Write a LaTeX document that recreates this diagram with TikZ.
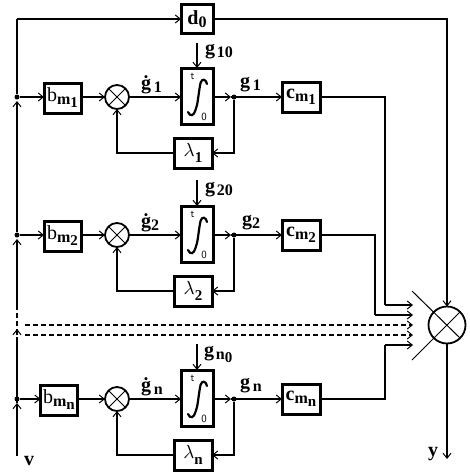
\documentclass[tikz,border=0pt]{standalone}
\usepackage{fontspec}
\usepackage{graphicx}
\setmainfont{Liberation Serif}
\usetikzlibrary{arrows.meta}
\newcommand{\bt}[1]{{\fontsize{20}{20}\selectfont\bfseries #1}}
\newcommand{\lowa}[1]{\raisebox{-3pt}{\fontsize{16}{16}\selectfont\bfseries #1}}
\newcommand{\lowb}[1]{\raisebox{-6pt}{\fontsize{15}{15}\selectfont\bfseries #1}}
\newcommand{\mlab}[2]{{\fontsize{20}{20}\selectfont #1}\lowa{m}\lowb{#2}}
\newcommand{\lamlab}[1]{\scalebox{1.9}{$\lambda$}\lowb{#1}}
\tikzset{
  x=1pt,y=-1pt,
  wire/.style={line width=1.6pt,line join=miter},
  tip/.style={-{Straight Barb[length=5pt,width=8pt,line width=1pt]}},
  block/.style={draw,line width=3pt,minimum width=#1,inner sep=0pt,outer sep=0pt,fill=white},
  mixer/.style={draw,circle,line width=1.8pt,inner sep=0pt,minimum size=24pt,outer sep=0pt},
  dot/.style={circle,fill=black,inner sep=0pt,minimum size=5pt},
  lab/.style={inner sep=0pt,anchor=west},
  small/.style={inner sep=0pt,font=\fontsize{11}{11}\selectfont\sffamily},
  dashwire/.style={line width=1.6pt,dash pattern=on 5pt off 3pt},
  integ/.style={line width=2.2pt,line cap=round}
}
\newcommand{\intbox}[3]{% name, top, bottom
  \node[block=32pt,minimum height=#3pt-#2pt] (#1) at (197,{(#2+#3)/2}) {};
  \draw[integ,shift={(#1.center)}] (10,-12) .. controls (9,-17) and (5,-18) .. (3.5,-13) .. controls (1,0) and (1,8) .. (-1.5,14) .. controls (-3,20) and (-7,21) .. (-9,16);
  \node[small] (#1t) at (192.5,#2+8) {t};
  \node[small] (#1z) at (204,#3-7) {0};
}
\begin{document}
\begin{tikzpicture}
\useasboundingbox (0,0) rectangle (470,474);
% bus
\coordinate (bustop) at (17,19);
\coordinate (busbot) at (17,456);
\coordinate (da) at (17,342);
\coordinate (db) at (17,307);
\coordinate (dtip) at (17,329);
\coordinate (dlow) at (17,335);
\node[dot] (j1) at (17,97) {};
\node[dot] (j2) at (17,235) {};
\node[dot] (jn) at (17,399) {};
\coordinate (u1) at (17,101);
\coordinate (u2) at (17,239);
\coordinate (un) at (17,403);

% d0 block
\node[block=32pt,minimum height=29pt] (d0) at (197,19) {\bt{d}\lowa{0}};
% final mixer
\node[mixer,minimum size=37pt] (S) at (447,325) {};
\coordinate (xa) at (412,291);
\coordinate (xb) at (412,360);
\draw[line width=1pt] (xa) -- (S.south east);
\draw[line width=1pt] (xb) -- (S.north east);
\coordinate (yend) at (447,459);

% rows
\node[block=37pt,minimum height=30pt] (b1) at (62.5,98) {\mlab{b}{1}};
\node[block=37pt,minimum height=30pt] (b2) at (62.5,236) {\mlab{b}{2}};
\node[block=37pt,minimum height=30pt] (bn) at (59,400) {\mlab{b}{n}};
\node[mixer] (s1) at (117,97) {};
\node[mixer] (s2) at (117,235) {};
\node[mixer] (sn) at (117,399) {};
\foreach \s in {s1,s2,sn}{
  \draw[line width=1pt] (\s.north west) -- (\s.south east);
  \draw[line width=1pt] (\s.north east) -- (\s.south west);
}
\intbox{i1}{68}{124}
\intbox{i2}{206}{262}
\intbox{in}{370}{426}
\node[block=38pt,minimum height=30pt] (l1) at (193,153) {\lamlab{1}};
\node[block=38pt,minimum height=30pt] (l2) at (193,291) {\lamlab{2}};
\node[block=38pt,minimum height=30pt] (ln) at (193,455) {\lamlab{n}};
\node[block=38pt,minimum height=30pt] (c1) at (301,97) {\mlab{\bfseries c}{1}};
\node[block=38pt,minimum height=30pt] (c2) at (301,235) {\mlab{\bfseries c}{2}};
\node[block=38pt,minimum height=30pt] (cn) at (301,399) {\mlab{\bfseries c}{n}};
\node[dot] (k1) at (234,97) {};
\node[dot] (k2) at (234,235) {};
\node[dot] (kn) at (234,399) {};
\coordinate (m1) at (231,97);
\coordinate (m2) at (231,235);
\coordinate (mn) at (231,399);
\coordinate (g1s) at (197,43);
\coordinate (g2s) at (197,180);
\coordinate (gns) at (197,344);
\coordinate (e1) at (413,305);
\coordinate (e2) at (413,315);
\coordinate (en) at (413,345);
\coordinate (t1) at (413,325);
\coordinate (t2) at (413,335);
\coordinate (f1) at (25,325);
\coordinate (f2) at (25,335);

% wires
\draw[wire,tip] (busbot) -- (un);
\draw[wire] (un) -- (da);
\draw[dashwire] (da) -- (db);
\draw[wire,tip] (dlow) -- (dtip);
\draw[wire,tip] (db) -- (u2);
\draw[wire,tip] (j2) -- (u1);
\draw[wire] (j1) -- (bustop);
\draw[wire,tip] (bustop) -- (d0.west);
\draw[wire] (d0.east) -| (S.north);
\draw[wire,tip] (447,290) -- (S.north);
\draw[wire,tip] (S.south) -- (yend);
\draw[dashwire,tip] (f1) -- (t1);
\draw[dashwire,tip] (f2) -- (t2);
\foreach \r/\t in {1/g1s,2/g2s,n/gns}{
  \draw[wire,tip] (j\r) -- (j\r -| b\r.west);
  \draw[wire,tip] (b\r.east |- s\r) -- (s\r.west);
  \draw[wire,tip] (s\r.east) -- (s\r -| i\r.west);
  \draw[wire,tip] (\t) -- (i\r.north);
  \draw[wire,tip] (i\r.east |- s\r) -- (m\r);
  \draw[wire,tip] (m\r) -- (k\r -| c\r.west);
  \draw[wire,tip] (k\r) |- (l\r.east);
  \draw[wire,tip] (l\r.west) -| (s\r.south);
}
\draw[wire] (c1.east) -| (385,305);
\draw[wire,tip] (385,305) -- (e1);
\draw[wire] (c2.east) -| (375,315);
\draw[wire,tip] (375,315) -- (e2);
\draw[wire] (cn.east) -| (385,345);
\draw[wire,tip] (385,345) -- (en);

% labels
\node[lab] (lg1d) at (141,85) {\bt{\.g}\lowa{\,1}};
\node[lab] (lg2d) at (141,223) {\bt{\.g}\lowa{2}};
\node[lab] (lgnd) at (141,387) {\bt{\.g}\lowa{\,n}};
\node[lab] (lg1) at (240,85) {\bt{g}\lowa{\,1}};
\node[lab] (lg2) at (242,223) {\bt{g}\lowa{2}};
\node[lab] (lgn) at (240,386) {\bt{g}\lowa{\,n}};
\node[lab] (lg10) at (205,52) {\bt{g}\,\lowa{1}\lowa{0}};
\node[lab] (lg20) at (205,190) {\bt{g}\,\lowa{2}\lowa{0}};
\node[lab] (lgn0) at (204,354) {\bt{g}\,\lowa{n}\lowb{0}};
\node[lab] (lv) at (24,461) {\bt{v}};
\node[lab] (ly) at (428,454) {\bt{y}};
\end{tikzpicture}
\end{document}
